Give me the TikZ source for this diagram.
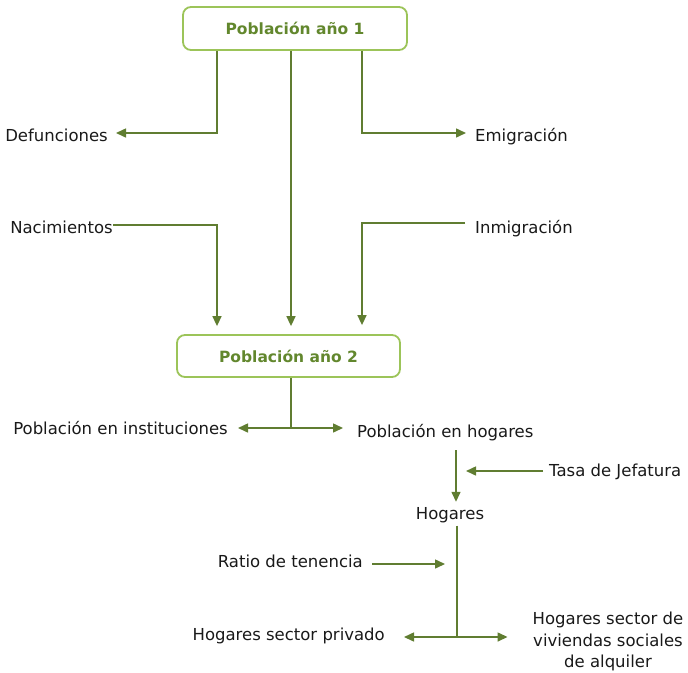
\documentclass[tikz,border=0pt]{standalone}
\usepackage{fontspec}
\setmainfont{DejaVu Sans}
\usepackage{tikz}
\usetikzlibrary{arrows.meta,calc}
\definecolor{verdeL}{RGB}{96,125,49}
\definecolor{verdeB}{RGB}{156,196,89}
\definecolor{verdeT}{RGB}{98,135,45}
\definecolor{texto}{RGB}{25,25,25}
\newcommand{\lbfont}{\fontsize{16.5}{21.5}\selectfont}
\newcommand{\ttlfont}{\fontsize{15.5}{18}\selectfont\bfseries}
\tikzset{
  caja/.style={draw=verdeB, line width=1.8pt, rounded corners=8pt, fill=white,
    text=verdeT, font=\ttlfont},
  lbl/.style={inner sep=0pt, text=texto, font=\lbfont},
  flujo/.style={color=verdeL, line width=1.5pt},
  punta/.style={-{Triangle[length=10pt,width=9pt]}},
  puntas/.style={{Triangle[length=10pt,width=9pt]}-{Triangle[length=10pt,width=9pt]}}
}

\begin{document}
\begin{tikzpicture}[x=1pt,y=-1pt]
\useasboundingbox (0,0) rectangle (688,672);
\node (P1) at (295,28.5) [caja, minimum width=224pt, minimum height=43pt] {Población año 1};
\node (P2) at (288.5,356) [caja, minimum width=223pt, minimum height=42pt] {Población año 2};
\node (D) at (108,141) [lbl, anchor=base east] {Defunciones};
\node (E) at (475,141) [lbl, anchor=base west] {Emigración};
\node (N) at (113,233) [lbl, anchor=base east] {Nacimientos};
\node (I) at (475,233) [lbl, anchor=base west] {Inmigración};
\node (PI) at (228,434) [lbl, anchor=base east] {Población en instituciones};
\node (PH) at (357,437) [lbl, anchor=base west] {Población en hogares};
\node (TJ) at (549,476) [lbl, anchor=base west] {Tasa de Jefatura};
\node (H) at (450,519) [lbl, anchor=base] {Hogares};
\node (RT) at (363,567) [lbl, anchor=base east] {Ratio de tenencia};
\node (HP) at (385,640) [lbl, anchor=base east] {Hogares sector privado};
\node (HS) at (608,612) [lbl, anchor=north, align=center] {Hogares sector de\\viviendas sociales\\de alquiler};
\coordinate (cD) at (217,133);
\coordinate (cE) at (362,133);
\coordinate (cN) at (217,225);
\coordinate (cI) at (362,223);
\coordinate (cP) at (291,428);
\coordinate (cG) at (456,450);
\coordinate (cT) at (466,471);
\coordinate (cR) at (445,564);
\coordinate (cH) at (457,637);
\draw[flujo, punta, shorten >=8pt] (P1.south -| cD) |- (D.east |- cD);
\draw[flujo, punta, shorten >=9pt] (P1.south -| cE) |- (E.west |- cE);
\draw[flujo, punta, shorten >=8pt] (P1.south -| cP) -- (P2.north -| cP);
\draw[flujo, punta, shorten >=8pt] (N.east |- cN) -| (P2.north -| cN);
\draw[flujo, punta, shorten <=10pt, shorten >=9pt] (I.west |- cI) -| (P2.north -| cI);
\draw[flujo] (P2.south -| cP) -- (cP);
\draw[flujo, puntas, shorten <=10pt, shorten >=14pt] (PI.east |- cP) -- (PH.west |- cP);
\draw[flujo, punta, shorten >=5pt] (cG) -- (cG |- H.north);
\draw[flujo, punta, shorten <=6pt] (TJ.west |- cT) -- (cT);
\draw[flujo, shorten <=3pt] (H.south -| cH) -- (cH);
\draw[flujo, punta, shorten <=9pt] (RT.east |- cR) -- (cR);
\draw[flujo, puntas, shorten <=19pt, shorten >=25pt] (HP.east |- cH) -- (HS.west |- cH);
\end{tikzpicture}
\end{document}
